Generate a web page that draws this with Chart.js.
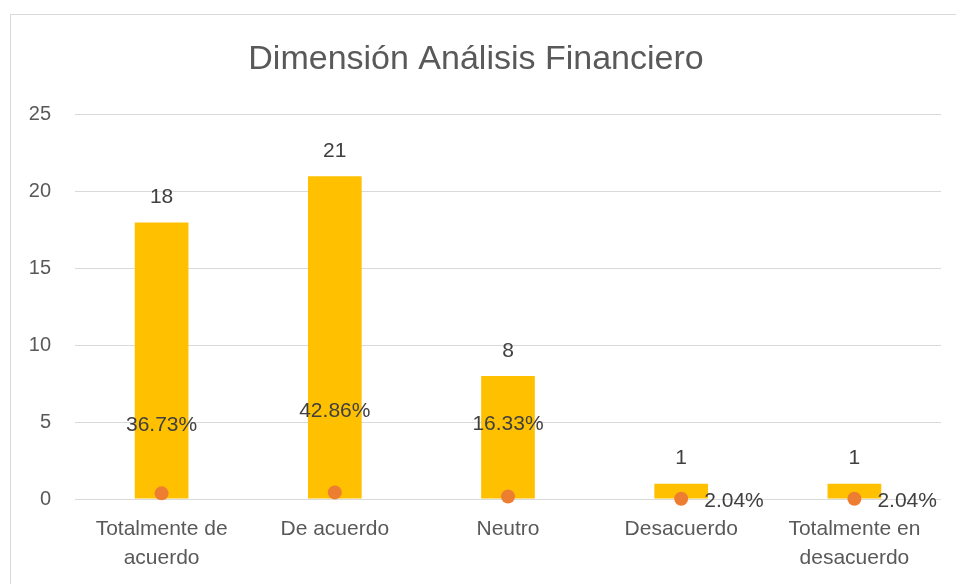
<!DOCTYPE html>
<html>
<head>
<meta charset="utf-8">
<script src="https://cdn.jsdelivr.net/npm/chart.js@4/dist/chart.umd.min.js"></script>
<style>
  html, body { margin: 0; padding: 0; background: #fff; overflow: hidden; }
  #frame {
    position: absolute; left: 10px; top: 14px;
    width: 960px; height: 590px;
    border-left: 1px solid #d9d9d9; border-top: 1px solid #d9d9d9;
  }
  #wrap { position: absolute; left: 0; top: 0; width: 945px; height: 569px; }
</style>
</head>
<body>
<div id="frame"><div id="wrap"><canvas id="chart"></canvas></div></div>
<script>
// Data
var categories = [
  ["Totalmente de", "acuerdo"],
  "De acuerdo",
  "Neutro",
  "Desacuerdo",
  ["Totalmente en", "desacuerdo"]
];
var counts = [18, 21, 8, 1, 1];
var shares = [0.3673, 0.4286, 0.1633, 0.0204, 0.0204];
var yTicks = [0, 5, 10, 15, 20, 25];

// label offsets for the percent labels (dx, dy, align)
var shareLabelPos = [
  { dx: 0, dy: -68, align: "center" },
  { dx: 0, dy: -81, align: "center" },
  { dx: 0, dy: -72, align: "center" },
  { dx: 23, dy: 3, align: "left" },
  { dx: 23, dy: 3, align: "left" }
];

var fontFamily = "'Liberation Sans', Arial, sans-serif";

var labelPlugin = {
  id: "labels",
  afterDatasetsDraw: function (chart) {
    var ctx = chart.ctx;
    ctx.save();
    ctx.fillStyle = "#404040";
    ctx.font = "21px " + fontFamily;
    ctx.textBaseline = "middle";

    var barMeta = chart.getDatasetMeta(1);
    barMeta.data.forEach(function (bar, i) {
      ctx.textAlign = "center";
      ctx.fillText(String(counts[i]), bar.x, bar.y - 25);
    });

    var ptMeta = chart.getDatasetMeta(0);
    ptMeta.data.forEach(function (pt, i) {
      var p = shareLabelPos[i];
      ctx.textAlign = p.align;
      ctx.fillText((shares[i] * 100).toFixed(2) + "%", pt.x + p.dx, pt.y + p.dy);
    });
    ctx.restore();
  }
};

var ctx = document.getElementById("chart").getContext("2d");
new Chart(ctx, {
  type: "bar",
  data: {
    labels: categories,
    datasets: [
      {
        type: "line",
        label: "Porcentaje",
        data: shares,
        showLine: false,
        clip: false,
        pointRadius: 7,
        pointHoverRadius: 7,
        pointBackgroundColor: "#ED7D31",
        pointBorderWidth: 0,
        order: 1
      },
      {
        label: "Frecuencia",
        data: counts,
        backgroundColor: "#FFC000",
        barPercentage: 0.31,
        categoryPercentage: 1,
        order: 2
      }
    ]
  },
  options: {
    responsive: true,
    maintainAspectRatio: false,
    animation: false,
    layout: { padding: { left: 0, right: 15, top: 0, bottom: 0 } },
    plugins: {
      legend: { display: false },
      tooltip: { enabled: false },
      title: {
        display: true,
        text: "Dimensión Análisis Financiero",
        color: "#595959",
        font: { family: fontFamily, size: 34, weight: "normal" },
        padding: { top: 24, bottom: 35 }
      }
    },
    scales: {
      y: {
        min: 0,
        max: 25,
        afterBuildTicks: function (scale) {
          scale.ticks = yTicks.map(function (v) { return { value: v }; });
        },
        afterFit: function (scale) { scale.width = 64; },
        grid: { color: "#d9d9d9", drawTicks: false },
        border: { display: false },
        ticks: {
          color: "#595959",
          padding: 24,
          font: { family: fontFamily, size: 20 }
        }
      },
      x: {
        afterFit: function (scale) { scale.height = 85; },
        grid: { display: false, drawTicks: false },
        border: { display: false },
        ticks: {
          color: "#595959",
          padding: 16,
          maxRotation: 0,
          autoSkip: false,
          font: { family: fontFamily, size: 21, lineHeight: 1.38 }
        }
      }
    }
  },
  plugins: [labelPlugin]
});
</script>
</body>
</html>
